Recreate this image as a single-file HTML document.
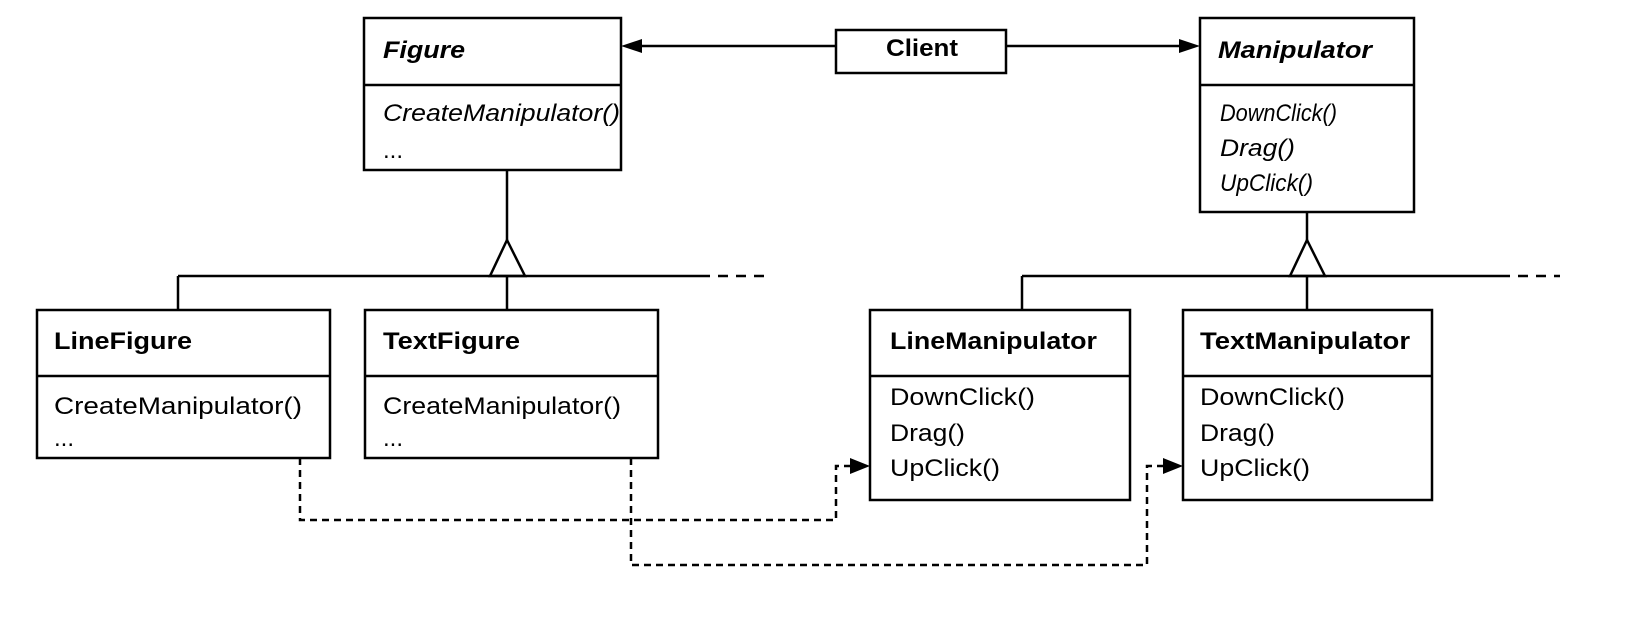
<!DOCTYPE html>
<html><head><meta charset="utf-8"><style>
html,body{margin:0;padding:0;background:#fff;}
svg{display:block;}
text{font-family:"Liberation Sans",sans-serif;fill:#000;}
.b{font-weight:bold;font-size:24px;}
.bi{font-weight:bold;font-style:italic;font-size:24px;}
.i{font-style:italic;font-size:24px;}
.n{font-size:24px;}
</style></head><body>
<svg width="1633" height="637" viewBox="0 0 1633 637" xmlns="http://www.w3.org/2000/svg">
<g fill="none" stroke="#000" stroke-width="2.5">
<rect x="364" y="18" width="257" height="152"/>
<line x1="364" y1="85" x2="621" y2="85"/>
<rect x="836" y="30" width="170" height="43"/>
<rect x="1200" y="18" width="214" height="194"/>
<line x1="1200" y1="85" x2="1414" y2="85"/>
<rect x="37" y="310" width="293" height="148"/>
<line x1="37" y1="376" x2="330" y2="376"/>
<rect x="365" y="310" width="293" height="148"/>
<line x1="365" y1="376" x2="658" y2="376"/>
<rect x="870" y="310" width="260" height="190"/>
<line x1="870" y1="376" x2="1130" y2="376"/>
<rect x="1183" y="310" width="249" height="190"/>
<line x1="1183" y1="376" x2="1432" y2="376"/>
<line x1="836" y1="46" x2="640" y2="46"/>
<line x1="1006" y1="46" x2="1182" y2="46"/>
<line x1="507" y1="170" x2="507" y2="240"/>
<polygon points="507,240 490,276 525,276"/>
<line x1="178" y1="276" x2="700" y2="276"/>
<line x1="700" y1="276" x2="770" y2="276" stroke-dasharray="10,8"/>
<line x1="178" y1="276" x2="178" y2="310"/>
<line x1="507" y1="276" x2="507" y2="310"/>
<line x1="1307" y1="212" x2="1307" y2="240"/>
<polygon points="1307,240 1290,276 1325,276"/>
<line x1="1022" y1="276" x2="1500" y2="276"/>
<line x1="1500" y1="276" x2="1560" y2="276" stroke-dasharray="10,8"/>
<line x1="1022" y1="276" x2="1022" y2="310"/>
<line x1="1307" y1="276" x2="1307" y2="310"/>
<polyline points="300,458 300,520 836,520 836,466 852,466" stroke-dasharray="7,5"/>
<polyline points="631,458 631,565 1147,565 1147,466 1165,466" stroke-dasharray="7,5"/>
</g>
<g fill="#000">
<polygon points="621,46 642,39 642,53"/>
<polygon points="1200,46 1179,39 1179,53"/>
<polygon points="870,466 850,458 850,474"/>
<polygon points="1183,466 1163,458 1163,474"/>
</g>
<g lengthAdjust="spacingAndGlyphs">
<text class="bi" x="383" y="58" textLength="82" lengthAdjust="spacingAndGlyphs">Figure</text>
<text class="i" x="383" y="121" textLength="237" lengthAdjust="spacingAndGlyphs">CreateManipulator()</text>
<text class="n" x="383" y="158">...</text>
<text class="b" x="886" y="56" textLength="72" lengthAdjust="spacingAndGlyphs">Client</text>
<text class="bi" x="1218" y="58" textLength="154" lengthAdjust="spacingAndGlyphs">Manipulator</text>
<text class="i" x="1220" y="121" textLength="117" lengthAdjust="spacingAndGlyphs">DownClick()</text>
<text class="i" x="1220" y="156" textLength="75" lengthAdjust="spacingAndGlyphs">Drag()</text>
<text class="i" x="1220" y="191" textLength="93" lengthAdjust="spacingAndGlyphs">UpClick()</text>
<text class="b" x="54" y="349" textLength="138" lengthAdjust="spacingAndGlyphs">LineFigure</text>
<text class="n" x="54" y="414" textLength="248" lengthAdjust="spacingAndGlyphs">CreateManipulator()</text>
<text class="n" x="54" y="446">...</text>
<text class="b" x="383" y="349" textLength="137" lengthAdjust="spacingAndGlyphs">TextFigure</text>
<text class="n" x="383" y="414" textLength="238" lengthAdjust="spacingAndGlyphs">CreateManipulator()</text>
<text class="n" x="383" y="446">...</text>
<text class="b" x="890" y="349" textLength="207" lengthAdjust="spacingAndGlyphs">LineManipulator</text>
<text class="n" x="890" y="405" textLength="145" lengthAdjust="spacingAndGlyphs">DownClick()</text>
<text class="n" x="890" y="441" textLength="75" lengthAdjust="spacingAndGlyphs">Drag()</text>
<text class="n" x="890" y="476" textLength="110" lengthAdjust="spacingAndGlyphs">UpClick()</text>
<text class="b" x="1200" y="349" textLength="210" lengthAdjust="spacingAndGlyphs">TextManipulator</text>
<text class="n" x="1200" y="405" textLength="145" lengthAdjust="spacingAndGlyphs">DownClick()</text>
<text class="n" x="1200" y="441" textLength="75" lengthAdjust="spacingAndGlyphs">Drag()</text>
<text class="n" x="1200" y="476" textLength="110" lengthAdjust="spacingAndGlyphs">UpClick()</text>
</g>
</svg>
</body></html>
